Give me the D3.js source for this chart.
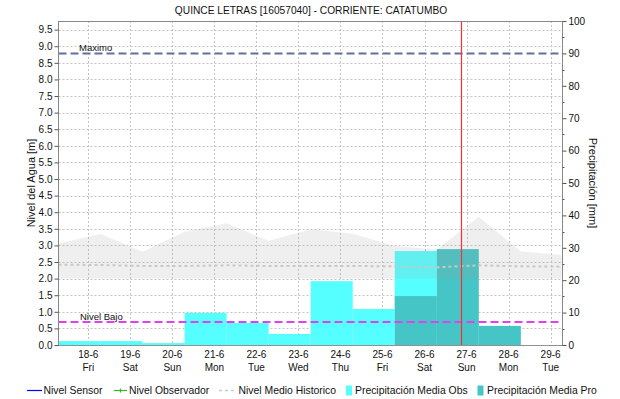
<!DOCTYPE html>
<html><head><meta charset="utf-8">
<script src="https://cdn.jsdelivr.net/npm/d3@7"></script>
<style>
body{margin:0;background:#fff}
svg{display:block}
text{font-family:"Liberation Sans",Arial,sans-serif;fill:#111}
</style>
</head><body><svg id="c" width="620" height="399"></svg>
<script>
// ---------------- data ----------------
const chartTitle = "QUINCE LETRAS [16057040] - CORRIENTE: CATATUMBO";
const yLeftTitle = "Nivel del Agua [m]";
const yRightTitle = "Precipitación [mm]";
const dayTicks = ["2021-06-18","2021-06-19","2021-06-20","2021-06-21","2021-06-22","2021-06-23",
                  "2021-06-24","2021-06-25","2021-06-26","2021-06-27","2021-06-28","2021-06-29"];
const dayNames = ["Fri","Sat","Sun","Mon","Tue","Wed","Thu","Fri","Sat","Sun","Mon","Tue"];
const levelTicks = [0,0.5,1,1.5,2,2.5,3,3.5,4,4.5,5,5.5,6,6.5,7,7.5,8,8.5,9,9.5];
const precipTicks = [0,10,20,30,40,50,60,70,80,90,100];
const precipMinorTicks = [5,15,25,35,45,55,65,75,85,95];
const barStarts = ["2021-06-17T07:00","2021-06-18T07:00","2021-06-19T07:00","2021-06-20T07:00",
                   "2021-06-21T07:00","2021-06-22T07:00","2021-06-23T07:00","2021-06-24T07:00",
                   "2021-06-25T07:00","2021-06-26T07:00","2021-06-27T07:00"];
const precipObs = [1.2,1.2,0.6,9.9,6.8,3.4,19.7,11.1,29.0,null,null];
const precipPro = [null,null,null,null,null,null,null,null,15.1,29.6,5.9];
const histTimes = ["2021-06-17T07:00","2021-06-18T07:00","2021-06-19T07:00","2021-06-20T07:00",
                   "2021-06-21T07:00","2021-06-22T07:00","2021-06-23T07:00","2021-06-24T07:00",
                   "2021-06-25T07:00","2021-06-26T07:00","2021-06-27T07:00","2021-06-28T07:00",
                   "2021-06-29T07:00"];
const histMax  = [3.06,3.34,2.81,3.41,3.67,3.13,3.49,3.35,2.98,2.88,3.86,2.82,2.71];
const histMin  = [2.0,2.0,2.0,2.0,2.0,2.0,2.0,2.0,2.0,2.0,2.0,2.0,2.0];
const histMean = [2.42,2.41,2.38,2.38,2.40,2.38,2.38,2.38,2.37,2.34,2.40,2.37,2.36];
const nivelMaximo = 8.78;
const nivelBajo = 0.69;
const nowTime = "2021-06-26T21:00";
const domainStart = "2021-06-17T07:00";
const domainEnd = "2021-06-29T06:20";
const legendLabels = ["Nivel Sensor","Nivel Observador","Nivel Medio Historico","Precipitación Media Obs","Precipitación Media Pro"];

// ---------------- layout ----------------
const L = 58.5, R = 561.7, T = 21, B = 345;
const svg = d3.select("#c");
const parse = d3.isoParse;
const x = d3.scaleTime().domain([parse(domainStart), parse(domainEnd)]).range([L, R]);
const yL = d3.scaleLinear().domain([0, 9.76]).range([B, T]);
const yR = d3.scaleLinear().domain([0, 100]).range([B, T]);

svg.append("defs").append("clipPath").attr("id","clip")
  .append("rect").attr("x",L).attr("y",T).attr("width",R-L).attr("height",B-T);

// title
svg.append("text").attr("x",311).attr("y",13.5).attr("text-anchor","middle")
  .style("font-size","10.2px").text(chartTitle);

// grid
const grid = svg.append("g");
grid.selectAll("line.h").data(levelTicks.filter(d=>d>0)).join("line")
  .attr("x1",L).attr("x2",R).attr("y1",d=>Math.round(yL(d))+0.5).attr("y2",d=>Math.round(yL(d))+0.5)
  .attr("stroke","#c4c4c4").attr("stroke-dasharray","2,2");
grid.selectAll("line.v").data(dayTicks).join("line")
  .attr("y1",T).attr("y2",B).attr("x1",d=>Math.round(x(parse(d)))+0.5).attr("x2",d=>Math.round(x(parse(d)))+0.5)
  .attr("stroke","#c4c4c4").attr("stroke-dasharray","2,2");

const plot = svg.append("g").attr("clip-path","url(#clip)");

// bars
function bars(vals, color){
  const data = barStarts.map((s,i)=>({s:parse(s), e:d3.timeDay.offset(parse(s),1), v:vals[i]})).filter(d=>d.v!=null);
  plot.append("g").selectAll("rect").data(data).join("rect")
    .attr("x",d=>x(d.s)).attr("width",d=>x(d.e)-x(d.s))
    .attr("y",d=>yR(d.v)).attr("height",d=>yR(0)-yR(d.v))
    .attr("fill",color);
}
bars(precipObs, "#55ffff");
bars(precipPro, "#45c5c5");

// historic band
const hist = histTimes.map((t,i)=>({t:parse(t), hi:histMax[i], lo:histMin[i], m:histMean[i]}));
plot.append("path").datum(hist)
  .attr("d", d3.area().x(d=>x(d.t)).y0(d=>yL(d.lo)).y1(d=>yL(d.hi)))
  .attr("fill","#a0a0a0").attr("fill-opacity",0.17);
plot.append("path").datum(hist)
  .attr("d", d3.line().x(d=>x(d.t)).y(d=>yL(d.m)))
  .attr("fill","none").attr("stroke","#c8c8c8").attr("stroke-width",2).attr("stroke-dasharray","3,3");

// threshold lines
plot.append("line").attr("x1",L).attr("x2",R).attr("y1",yL(nivelMaximo)).attr("y2",yL(nivelMaximo))
  .attr("stroke","#6170a0").attr("stroke-width",2).attr("stroke-dasharray","8,4");
plot.append("line").attr("x1",L).attr("x2",R).attr("y1",yL(nivelBajo)).attr("y2",yL(nivelBajo))
  .attr("stroke","#e040f0").attr("stroke-width",2).attr("stroke-dasharray","8,4");
svg.append("text").attr("x",79).attr("y",yL(nivelMaximo)-2.5).style("font-size","9.5px").text("Maximo");
svg.append("text").attr("x",80).attr("y",yL(nivelBajo)-2.5).style("font-size","9.5px").text("Nivel Bajo");

// now line
const nx = Math.round(x(parse(nowTime)))+0.5;
svg.append("line").attr("x1",nx).attr("x2",nx).attr("y1",T).attr("y2",B)
  .style("stroke","#ff3030").style("stroke-width","1.2px");

// frame
svg.append("line").attr("x1",L).attr("x2",R).attr("y1",T+0.5).attr("y2",T+0.5).attr("stroke","#888");
svg.append("line").attr("x1",L).attr("x2",R).attr("y1",B+0.5).attr("y2",B+0.5).attr("stroke","#222").attr("stroke-dasharray","1,1");

// left axis
const axL = svg.append("g").attr("transform",`translate(${Math.round(L)-0.5},0)`)
  .call(d3.axisLeft(yL).tickValues(levelTicks).tickFormat(d3.format(".1f")).tickSize(4).tickPadding(2));
axL.select(".domain").attr("stroke","#888").attr("d",`M0,${T}V${B+1}`);
axL.selectAll(".tick line").attr("stroke","#555");
axL.selectAll("text").style("font-size","10px").attr("fill","#111");

// right axis
const axR = svg.append("g").attr("transform",`translate(${Math.round(R)+0.5},0)`)
  .call(d3.axisRight(yR).tickValues(precipTicks).tickFormat(d3.format("d")).tickSize(4).tickPadding(2));
axR.select(".domain").attr("stroke","#888").attr("d",`M0,${T}V${B+1}`);
axR.selectAll(".tick line").attr("stroke","#555");
axR.selectAll("text").style("font-size","10px").attr("fill","#111");
svg.append("g").selectAll("line").data(precipMinorTicks).join("line")
  .attr("x1",Math.round(R)+0.5).attr("x2",Math.round(R)+2.5)
  .attr("y1",d=>Math.round(yR(d))+0.5).attr("y2",d=>Math.round(yR(d))+0.5).attr("stroke","#555");

// x labels
const xl = svg.append("g").selectAll("g").data(dayTicks).join("g")
  .attr("transform",d=>`translate(${x(parse(d))},0)`);
xl.append("text").attr("y",358).attr("text-anchor","middle").style("font-size","10px")
  .text(d=>{const t=parse(d);return t.getDate()+"-"+(t.getMonth()+1);});
xl.append("text").attr("y",370.5).attr("text-anchor","middle").style("font-size","10px")
  .text((d,i)=>dayNames[i]);

// axis titles
svg.append("text").attr("transform","translate(35,183) rotate(-90)").attr("text-anchor","middle")
  .style("font-size","11px").text(yLeftTitle);
svg.append("text").attr("transform","translate(589,183) rotate(90)").attr("text-anchor","middle")
  .style("font-size","11px").text(yRightTitle);

// legend
const lg = svg.append("g");
const ly = 390.5, lb = 394;
lg.append("line").attr("x1",27).attr("x2",42).attr("y1",ly).attr("y2",ly).attr("stroke","#0000ff").attr("stroke-width",1.2);
lg.append("line").attr("x1",114).attr("x2",127).attr("y1",ly).attr("y2",ly).attr("stroke","#33bb22").attr("stroke-width",1.2);
lg.append("path").attr("d",`M118.5,${ly}h4M120.5,${ly-2}v4`).attr("stroke","#33bb22").attr("stroke-width",1.2);
lg.append("line").attr("x1",219).attr("x2",234).attr("y1",ly).attr("y2",ly).attr("stroke","#cccccc").attr("stroke-width",1.5).attr("stroke-dasharray","3,3");
lg.append("rect").attr("x",346).attr("y",385.5).attr("width",6).attr("height",10).attr("fill","#55ffff");
lg.append("rect").attr("x",477.5).attr("y",385.5).attr("width",6).attr("height",10).attr("fill","#45c5c5");
const lx = [43.5,129,238.5,355,487];
lg.selectAll("text").data(legendLabels).join("text")
  .attr("x",(d,i)=>lx[i]).attr("y",lb).style("font-size","10.4px").text(d=>d);
</script>
</body></html>
